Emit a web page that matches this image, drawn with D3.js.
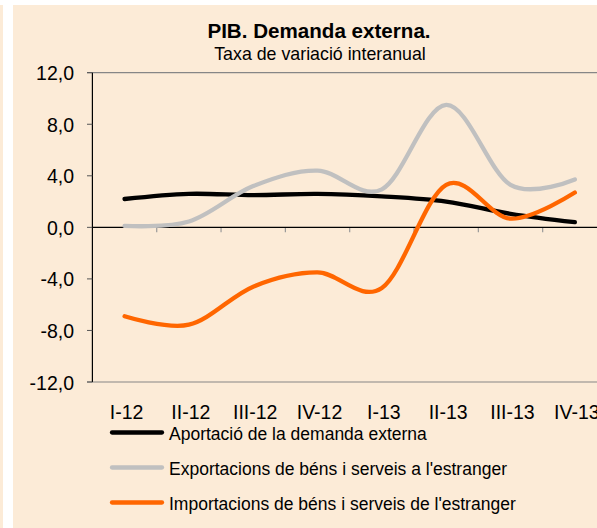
<!DOCTYPE html>
<html>
<head>
<meta charset="utf-8">
<script src="https://cdn.jsdelivr.net/npm/d3@7"></script>
<style>
  body { margin: 0; background: #fff; }
  svg { display: block; font-family: "Liberation Sans", Arial, sans-serif; }
</style>
</head>
<body>
<script>
const width = 597
const height = 528

const quarters = ["I-12", "II-12", "III-12", "IV-12", "I-13", "II-13", "III-13", "IV-13"]
const aportacio = [2.2, 2.6, 2.5, 2.6, 2.4, 2.0, 1.05, 0.4]
const exportacions = [0.12, 0.45, 3.2, 4.4, 2.95, 9.5, 3.3, 3.72]
const importacions = [-6.9, -7.55, -4.6, -3.5, -4.7, 3.3, 0.68, 2.7]
const yTicks = [-12, -8, -4, 0, 4, 8, 12]

const series = [
  {name: "Aportació de la demanda externa", values: aportacio, color: "#000000"},
  {name: "Exportacions de béns i serveis a l'estranger", values: exportacions, color: "#c0c0c0"},
  {name: "Importacions de béns i serveis de l'estranger", values: importacions, color: "#ff6600"}
]

const cream = "#fcebd7"

const x = d3.scaleBand()
    .domain(quarters)
    .range([92.4, 607])
    .paddingInner(0)
const y = d3.scaleLinear()
    .domain([-12, 12])
    .range([382, 72.7])

const line = d3.line()
    .x((d, i) => x(quarters[i]) + x.bandwidth() / 2)
    .y(d => y(d))
    .curve(d3.curveCardinal.tension(0))

const svg = d3.select("body").append("svg")
    .attr("viewBox", [0, 0, width, height])
    .attr("width", width)
    .attr("height", height)

// background panels
svg.append("rect").attr("x", 0).attr("y", 5).attr("width", 3).attr("height", height - 5).attr("fill", cream)
svg.append("rect").attr("x", 13).attr("y", 5).attr("width", width - 13).attr("height", height - 5).attr("fill", cream)

// title
svg.append("text")
    .attr("x", 319).attr("y", 38)
    .attr("text-anchor", "middle")
    .attr("font-weight", "bold")
    .attr("font-size", 20.6)
    .text("PIB. Demanda externa.")
svg.append("text")
    .attr("x", 320).attr("y", 60)
    .attr("text-anchor", "middle")
    .attr("font-size", 17.8)
    .text("Taxa de variació interanual")

// top and bottom frame lines
svg.append("g")
  .selectAll("line")
  .data([12, -12])
  .join("line")
    .attr("x1", 87).attr("x2", width)
    .attr("y1", d => y(d)).attr("y2", d => y(d))
    .attr("stroke", "#868686").attr("stroke-width", 1.2)

// y axis
const yAxis = svg.append("g")
yAxis.append("line")
    .attr("x1", x.range()[0]).attr("x2", x.range()[0])
    .attr("y1", y(12)).attr("y2", y(-12))
    .attr("stroke", "#000").attr("stroke-width", 1.2)
yAxis.selectAll(".tick")
  .data(yTicks)
  .join("line")
    .attr("x1", 87).attr("x2", x.range()[0])
    .attr("y1", d => y(d)).attr("y2", d => y(d))
    .attr("stroke", "#555")
yAxis.selectAll("text")
  .data(yTicks)
  .join("text")
    .attr("x", 74)
    .attr("y", d => y(d) + 7.5)
    .attr("text-anchor", "end")
    .attr("font-size", 19.5)
    .text(d => d3.format(".1f")(d).replace("−", "-").replace(".", ","))

// x axis on zero line
const xAxis = svg.append("g")
xAxis.selectAll("line.tick")
  .data(quarters.slice(1))
  .join("line")
    .attr("class", "tick")
    .attr("x1", d => x(d)).attr("x2", d => x(d))
    .attr("y1", y(0)).attr("y2", y(0) + 5)
    .attr("stroke", "#999").attr("stroke-width", 1.2)
xAxis.append("line")
    .attr("x1", x.range()[0]).attr("x2", width)
    .attr("y1", y(0)).attr("y2", y(0))
    .attr("stroke", "#000").attr("stroke-width", 1.2)
xAxis.selectAll("text")
  .data(quarters)
  .join("text")
    .attr("x", d => x(d) + x.bandwidth() / 2 + 2)
    .attr("y", 419)
    .attr("text-anchor", "middle")
    .attr("font-size", 19.5)
    .text(d => d)

// series
svg.append("g")
  .selectAll("path")
  .data(series)
  .join("path")
    .attr("fill", "none")
    .attr("stroke", d => d.color)
    .attr("stroke-width", 4.3)
    .attr("stroke-linecap", "round")
    .attr("d", d => line(d.values))

// legend
const legend = svg.append("g")
  .selectAll("g")
  .data(series)
  .join("g")
    .attr("transform", (d, i) => `translate(112,${432.5 + i * 35})`)
legend.append("line")
    .attr("x1", 0).attr("x2", 50)
    .attr("stroke", d => d.color)
    .attr("stroke-width", 4.3)
    .attr("stroke-linecap", "round")
legend.append("text")
    .attr("x", 57)
    .attr("y", 7)
    .attr("font-size", 17.5)
    .text(d => d.name)
</script>
</body>
</html>
